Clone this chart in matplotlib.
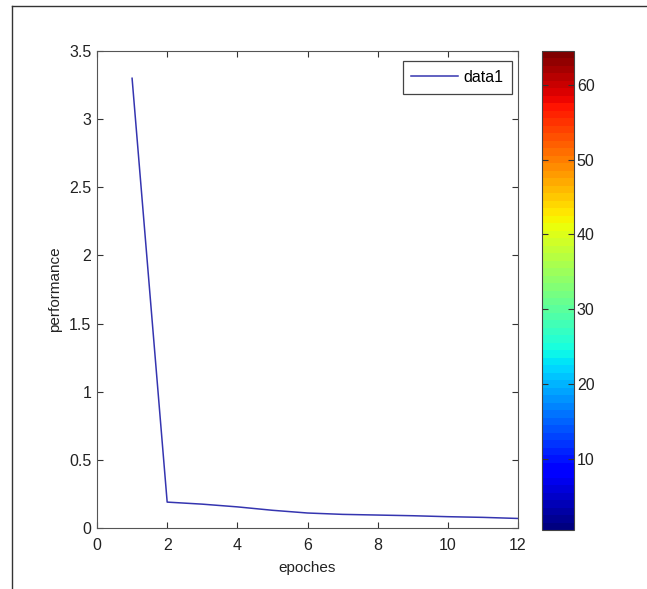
import numpy as np
import matplotlib
import matplotlib.pyplot as plt
from matplotlib.lines import Line2D

plt.rcParams['font.family'] = ['Liberation Sans', 'DejaVu Sans']

# data
epochs = [1, 2, 3, 4, 5, 6, 7, 8, 9, 10, 11, 12]
performance = [3.30, 0.19, 0.175, 0.155, 0.13, 0.11, 0.10, 0.095, 0.09, 0.083, 0.078, 0.07]
x_ticks = [0, 2, 4, 6, 8, 10, 12]
y_ticks = [0, 0.5, 1, 1.5, 2, 2.5, 3, 3.5]
y_labels = ["0", "0.5", "1", "1.5", "2", "2.5", "3", "3.5"]
cbar_ticks = [10, 20, 30, 40, 50, 60]

fig = plt.figure(figsize=(6.47, 5.89), dpi=100)

# outer frame (top and left edges)
fig.add_artist(Line2D([12 / 647, 646 / 647], [1 - 6 / 589, 1 - 6 / 589], color="#333333", lw=1.0))
fig.add_artist(Line2D([12 / 647, 12 / 647], [0, 1 - 6 / 589], color="#333333", lw=1.0))

ax = fig.add_axes([97 / 647, 61 / 589, 421 / 647, 477 / 589])
ax.plot(epochs, performance, color="#3535b0", lw=1.1, label="data1")
ax.set_xlim(0, 12)
ax.set_ylim(0, 3.5)
ax.set_xticks(x_ticks)
ax.set_yticks(y_ticks)
ax.set_yticklabels(y_labels)
ax.tick_params(direction="in", top=True, right=True, labelsize=11.5, length=4,
               color="#333333", labelcolor="#222222")
ax.tick_params(axis="x", pad=7)
ax.tick_params(axis="y", pad=4)
for s in ax.spines.values():
    s.set_color("#555555")
ax.set_xlabel("epoches", fontsize=11, color="#222222", labelpad=6)
ax.set_ylabel("performance", fontsize=11, color="#222222", labelpad=5)
leg = ax.legend(loc="upper right", fontsize=11.5, fancybox=False, framealpha=1,
                edgecolor="#444444", handlelength=2.9, handletextpad=0.35,
                borderpad=0.55, borderaxespad=0,
                bbox_to_anchor=(0.986, 0.979))
leg.get_frame().set_linewidth(0.9)

# jet colorbar, 64 colours
cax = fig.add_axes([542 / 647, 59 / 589, 32 / 647, 479 / 589])
cmap = matplotlib.colormaps["jet"].resampled(64)
norm = matplotlib.colors.Normalize(vmin=0.5, vmax=64.5)
sm = matplotlib.cm.ScalarMappable(norm=norm, cmap=cmap)
cb = fig.colorbar(sm, cax=cax)
cb.set_ticks(cbar_ticks)
cb.outline.set_edgecolor("#444444")
cax.tick_params(direction="in", left=True, right=True, labelleft=False,
                labelright=True, labelsize=11.5, length=4, color="#333333",
                labelcolor="#222222", pad=2)

fig.savefig("out.png", dpi=100)
